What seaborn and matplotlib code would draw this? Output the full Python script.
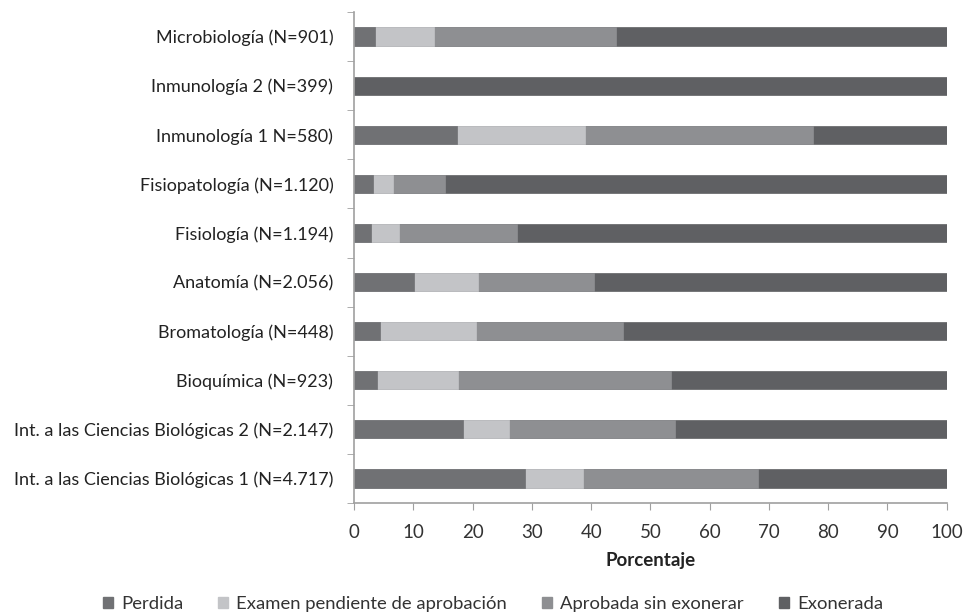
import matplotlib
matplotlib.use("Agg")
import matplotlib.pyplot as plt
import numpy as np
import pandas as pd
import seaborn as sns
from matplotlib.patches import Patch

categories = [
    "Microbiología (N=901)",
    "Inmunología 2 (N=399)",
    "Inmunología 1 N=580)",
    "Fisiopatología (N=1.120)",
    "Fisiología (N=1.194)",
    "Anatomía (N=2.056)",
    "Bromatología (N=448)",
    "Bioquímica (N=923)",
    "Int. a las Ciencias Biológicas 2 (N=2.147)",
    "Int. a las Ciencias Biológicas 1 (N=4.717)",
]
perdida = [3.5, 0.0, 17.3, 3.1, 2.9, 10.1, 4.3, 3.8, 18.3, 28.8]
examen = [10.0, 0.0, 21.7, 3.4, 4.7, 10.8, 16.2, 13.8, 7.9, 9.8]
aprobada = [30.7, 0.0, 38.4, 8.8, 19.9, 19.6, 24.9, 35.9, 27.9, 29.5]
exonerada = [55.8, 100.0, 22.6, 84.7, 72.5, 59.5, 54.6, 46.5, 45.9, 31.9]

series_names = ["Perdida", "Examen pendiente de aprobación", "Aprobada sin exonerar", "Exonerada"]
colors = ["#707174", "#c3c4c7", "#8e8f92", "#5f6063"]

sns.set_style("white")
plt.rcParams["font.family"] = ["Lato", "DejaVu Sans"]

df = pd.DataFrame({
    "cat": categories,
    "Perdida": perdida,
    "Examen pendiente de aprobación": examen,
    "Aprobada sin exonerar": aprobada,
    "Exonerada": exonerada,
})
cum = df[series_names].cumsum(axis=1)

fig, ax = plt.subplots(figsize=(9.65, 6.16), dpi=100)
fig.subplots_adjust(left=0.367, right=0.981, top=0.9805, bottom=0.1834)

# stacked bars: draw cumulative totals from the largest down
for name, col in reversed(list(zip(series_names, colors))):
    sns.barplot(x=cum[name], y=df["cat"], orient="h", color=col,
                width=0.37, saturation=1, ax=ax, edgecolor=col, linewidth=0.5)

ax.set_xlim(0, 100)
ax.set_ylim(9.5, -0.5)
ax.set_xticks(np.arange(0, 101, 10))
ax.set_ylabel("")
ax.set_xlabel("Porcentaje", fontsize=13.5, fontweight="bold", color="#222222", labelpad=8)

for s in ["top", "right"]:
    ax.spines[s].set_visible(False)
for s in ["left", "bottom"]:
    ax.spines[s].set_color("#a0a0a0")
    ax.spines[s].set_linewidth(1.2)

ax.tick_params(axis="x", direction="out", length=5, color="#a0a0a0", labelsize=13.5,
               labelcolor="#333333", bottom=True, pad=10)
ax.tick_params(axis="y", which="major", length=0, labelsize=13, labelcolor="#222222", pad=15)
ax.set_yticks(np.arange(-0.5, 10, 1), minor=True)
ax.tick_params(axis="y", which="minor", direction="out", length=5, color="#a0a0a0", left=True)

handles = [Patch(facecolor=c, edgecolor=c) for c in colors]
fig.legend(handles, series_names, loc="center", bbox_to_anchor=(0.511, 0.02), ncol=4,
           frameon=False, fontsize=13.3, handlelength=0.55, handleheight=0.55,
           handletextpad=0.43, columnspacing=1.9, labelcolor="#333333",
           borderpad=0, borderaxespad=0)

fig.savefig("out.png", dpi=100)
